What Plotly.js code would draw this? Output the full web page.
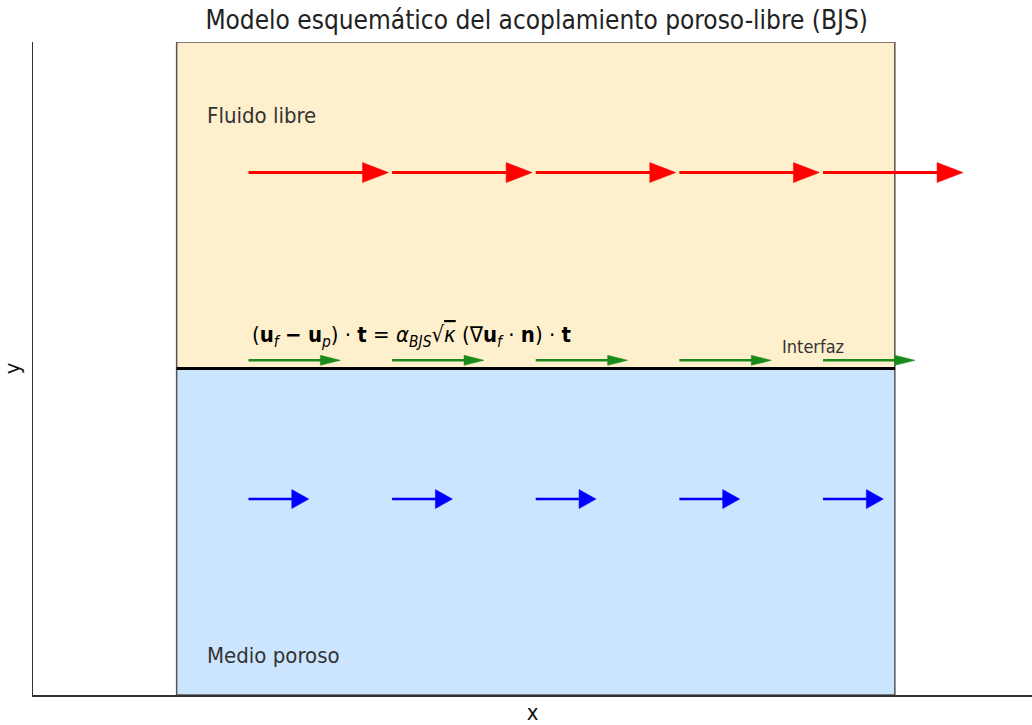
<!DOCTYPE html>
<html><head><meta charset="utf-8">
<script src="https://cdn.plot.ly/plotly-3.0.1.min.js"></script>
<style>body{margin:0;padding:0;background:#fff}#plot{width:1032px;height:725px}</style>
</head><body><div id="plot"></div>
<script>
// ---- data ----
const arrowX = [0.1, 0.3, 0.5, 0.7, 0.9];
const freeY = 0.6;
const freeU = [0.195, 0.195, 0.195, 0.195, 0.195];
const interfaceY = 0.025;
const interfaceU = [0.128, 0.128, 0.128, 0.128, 0.128];
const porousY = -0.4;
const porousU = [0.084, 0.084, 0.084, 0.084, 0.084];
const freeRegion = {x: [0, 1], y: [0, 1]};
const porousRegion = {x: [0, 1], y: [-1, 0]};
const interfaceLine = {x: [0, 1], y: 0};
const xRange = [-0.2, 1.191];
const yRange = [-1, 1];

// ---- layout geometry ----
const W = 1032, H = 725, M = {l: 33, r: 0, t: 42, b: 30};
const plotW = W - M.l - M.r, plotH = H - M.t - M.b;
const dxPerPx = (xRange[1] - xRange[0]) / plotW;
const dyPerPx = (yRange[1] - yRange[0]) / plotH;

function arrows(xs, y, us, color, lw, headL, headH) {
  const lx = [], ly = [], hx = [], hy = [];
  xs.forEach((x0, i) => {
    const tip = x0 + us[i];
    const base = tip - headL * dxPerPx;
    lx.push(x0, base + 1 * dxPerPx, null); ly.push(y, y, null);
    hx.push(base, tip, base, base, null);
    hy.push(y + headH / 2 * dyPerPx, y, y - headH / 2 * dyPerPx, y + headH / 2 * dyPerPx, null);
  });
  return [
    {x: lx, y: ly, mode: 'lines', line: {color: color, width: lw}, hoverinfo: 'skip', showlegend: false, cliponaxis: false},
    {x: hx, y: hy, mode: 'lines', fill: 'toself', fillcolor: color, line: {color: color, width: 0.5}, hoverinfo: 'skip', showlegend: false, cliponaxis: false}
  ];
}

const traces = [].concat(
  arrows(arrowX, freeY, freeU, '#ff0000', 3, 26, 20),
  arrows(arrowX, interfaceY, interfaceU, '#1a8a1a', 2.5, 20, 10),
  arrows(arrowX, porousY, porousU, '#0000ff', 2.5, 17, 19)
);

const shapes = [
  {type: 'rect', xref: 'x', yref: 'y', x0: freeRegion.x[0], x1: freeRegion.x[1], y0: freeRegion.y[0], y1: freeRegion.y[1],
   fillcolor: '#fff0cd', line: {color: '#555555', width: 1.5}, layer: 'below'},
  {type: 'rect', xref: 'x', yref: 'y', x0: porousRegion.x[0], x1: porousRegion.x[1], y0: porousRegion.y[0], y1: porousRegion.y[1],
   fillcolor: '#cce5ff', line: {color: '#555555', width: 1.5}, layer: 'below'},
  {type: 'line', xref: 'x', yref: 'y', x0: interfaceLine.x[0], x1: interfaceLine.x[1], y0: interfaceLine.y, y1: interfaceLine.y,
   line: {color: '#000000', width: 3}, layer: 'below'}
];

const F = '"DejaVu Sans Condensed", "DejaVu Sans", sans-serif';
const annotations = [
  {x: 0.04, y: 0.775, xref: 'x', yref: 'y', text: 'Fluido libre', showarrow: false, xanchor: 'left', yanchor: 'middle',
   font: {family: F, size: 22, color: '#333333'}},
  {x: 0.04, y: -0.88, xref: 'x', yref: 'y', text: 'Medio poroso', showarrow: false, xanchor: 'left', yanchor: 'middle',
   font: {family: F, size: 22, color: '#333333'}},
  {x: 0.84, y: 0.067, xref: 'x', yref: 'y', text: 'Interfaz', showarrow: false, xanchor: 'left', yanchor: 'middle',
   font: {family: F, size: 18, color: '#333333'}},
  {x: 0.102, y: 0.098, xref: 'x', yref: 'y', showarrow: false, xanchor: 'left', yanchor: 'middle',
   text: '(<b>u</b><sub><i>f</i></sub> <b>−</b> <b>u</b><sub><i>p</i></sub>) · <b>t</b> = <i>α</i><sub><i>BJS</i></sub>√<span style="text-decoration:overline"><i>κ</i></span> (∇<b>u</b><sub><i>f</i></sub> · <b>n</b>) · <b>t</b>',
   font: {family: F, size: 22, color: '#000000'}}
];

const layout = {
  width: W, height: H, margin: M,
  paper_bgcolor: '#ffffff', plot_bgcolor: '#ffffff',
  title: {text: 'Modelo esquemático del acoplamiento poroso-libre (BJS)', x: 0.52, xanchor: 'center', y: 0.972, yanchor: 'middle',
          font: {family: F, size: 26, color: '#222222'}},
  xaxis: {range: xRange, showgrid: false, zeroline: false, showticklabels: false, ticks: '',
          showline: true, linecolor: '#333333', linewidth: 1.5,
          title: {text: 'x', font: {family: F, size: 22, color: '#111111'}, standoff: 10}},
  yaxis: {range: yRange, showgrid: false, zeroline: false, showticklabels: false, ticks: '',
          showline: true, linecolor: '#333333', linewidth: 1.5,
          title: {text: 'y', font: {family: F, size: 22, color: '#111111'}, standoff: 6}},
  shapes: shapes, annotations: annotations, showlegend: false
};

Plotly.newPlot('plot', traces, layout, {displayModeBar: false, staticPlot: true});
</script></body></html>
